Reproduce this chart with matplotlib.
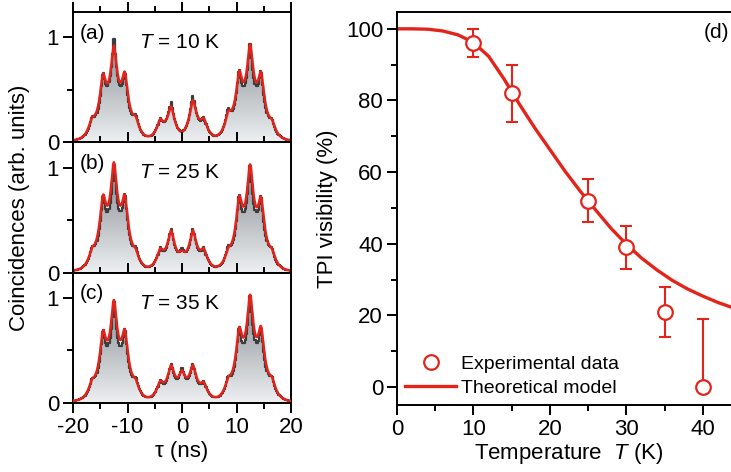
import numpy as np
import matplotlib.pyplot as plt
from matplotlib.colors import LinearSegmentedColormap

plt.rcParams['font.family'] = ['Liberation Sans', 'DejaVu Sans']
plt.rcParams['mathtext.fontset'] = 'custom'
plt.rcParams['mathtext.rm'] = 'Liberation Sans'
plt.rcParams['mathtext.it'] = 'Liberation Sans:italic'
plt.rcParams['axes.unicode_minus'] = False

RED = '#e3241b'

# Peak positions (ns) and heights (a)-(c)
peak_pos = [-16.5, -14.5, -12.5, -10.5, -8.5, -4, -2, 0, 2, 4,
            8.5, 10.5, 12.5, 14.5, 16.5]
fit_a = [0.24, 0.65, 0.92, 0.67, 0.25, 0.22, 0.34, 0.10, 0.40, 0.23,
         0.30, 0.68, 0.93, 0.67, 0.22]
dat_a = [0.25, 0.68, 1.03, 0.69, 0.27, 0.23, 0.38, 0.11, 0.44, 0.24,
         0.33, 0.71, 0.98, 0.70, 0.23]
fit_b = [0.24, 0.74, 1.05, 0.74, 0.23, 0.23, 0.40, 0.21, 0.40, 0.23,
         0.24, 0.73, 1.03, 0.72, 0.23]
dat_b = [0.25, 0.76, 1.07, 0.77, 0.25, 0.24, 0.42, 0.23, 0.42, 0.24,
         0.26, 0.76, 1.06, 0.75, 0.24]
fit_c = [0.23, 0.69, 0.98, 0.70, 0.23, 0.21, 0.36, 0.31, 0.36, 0.20,
         0.25, 0.72, 1.03, 0.73, 0.25]
dat_c = [0.24, 0.71, 1.00, 0.72, 0.25, 0.22, 0.37, 0.33, 0.37, 0.21,
         0.26, 0.74, 1.06, 0.74, 0.26]
panel_tags = ['(a)', '(b)', '(c)']
panel_temps = ['10', '25', '35']

# Panel (d): TPI visibility
T_exp = [10, 15, 25, 30, 35, 40]
V_exp = [96, 82, 52, 39, 21, 0]
err_lo = [4, 8, 6, 6, 7, 0]
err_hi = [4, 8, 6, 6, 7, 19]
T_model = [0, 2, 4, 6, 8, 10, 12, 14, 16, 18, 20, 22, 24, 26, 28, 30,
           32, 34, 36, 38, 40, 42, 44, 46]
V_model = [100, 100, 99.9, 99.4, 98.3, 96.2, 92.3, 86.0, 79.0, 72.4, 66.3,
           60.2, 54.6, 49.4, 44.3, 39.9, 36.0, 32.7, 29.8, 27.4, 25.4,
           23.6, 22.1, 20.7]


def peak_shape(dt, eps, decay=0.9):
    return np.exp(-(np.sqrt(dt ** 2 + eps ** 2) - eps) / decay)


def histogram(t, heights, eps, base=0.015):
    # amplitudes so that the summed curve reaches the read peak heights
    p = np.array(peak_pos)
    m = peak_shape(p[:, None] - p[None, :], eps)
    amp = np.linalg.solve(m, np.array(heights) - base)
    return base + (amp[None, :] * peak_shape(t[:, None] - p[None, :], eps)).sum(axis=1)


W, H = 731, 472
fig = plt.figure(figsize=(W / 100, H / 100), dpi=100)

cmap = LinearSegmentedColormap.from_list('g', ['#eef0f2', '#7b8187'])
t_fine = np.linspace(-20, 20, 2001)
t_bin = np.arange(-20, 20.001, 0.2)

tops = [12, 142.33, 272.67]
panel_h = 130.33
for i, (fit, dat) in enumerate([(fit_a, dat_a), (fit_b, dat_b), (fit_c, dat_c)]):
    top = tops[i]
    ax = fig.add_axes([73 / W, 1 - (top + panel_h) / H, 218 / W, panel_h / H])
    yd = histogram(t_bin, dat, 0.08)
    yf = histogram(t_fine, fit, 0.25)
    poly = ax.fill_between(t_bin, 0, yd, step='mid', facecolor='none',
                           edgecolor='none')
    grad = np.linspace(0, 1, 256).reshape(-1, 1)
    im = ax.imshow(grad, extent=[-20, 20, 0, 1.1], origin='lower',
                   aspect='auto', cmap=cmap, zorder=1)
    im.set_clip_path(poly.get_paths()[0], transform=ax.transData)
    ax.step(t_bin, yd, where='mid', color='#3c3c3c', lw=1.6, zorder=2)
    ax.plot(t_fine, yf, color=RED, lw=1.8, zorder=3)
    ax.set_xlim(-20, 20)
    ax.set_ylim(0, 1.24)
    ax.set_yticks([0, 1])
    ax.set_yticklabels(['0', '1'])
    ax.set_yticks([0.5], minor=True)
    ax.set_xticks([-20, -10, 0, 10, 20])
    ax.set_xticks([-15, -5, 5, 15], minor=True)
    ax.tick_params(axis='both', which='both', direction='out', width=1.4,
                   labelsize=16, pad=3)
    ax.tick_params(axis='both', which='major', length=7)
    ax.tick_params(axis='both', which='minor', length=4)
    ax.tick_params(axis='x', top=True, which='both')
    if i < 2:
        ax.tick_params(axis='x', labelbottom=False)
    for s in ax.spines.values():
        s.set_linewidth(1.4)
    ax.text(-18.7, 1.04, panel_tags[i], fontsize=15, ha='left', va='center')
    ax.text(-0.5, 0.95, r'$T$ = ' + panel_temps[i] + ' K', fontsize=15,
            ha='center', va='center')
    if i == 2:
        ax.set_xlabel('\u03c4 (ns)', fontsize=16, labelpad=2)
    if i == 1:
        ax.set_ylabel('Coincidences (arb. units)', fontsize=16, labelpad=12)

# Panel (d)
axd = fig.add_axes([397 / W, 1 - 405 / H, 344 / W, 393 / H])
axd.plot(T_model, V_model, color=RED, lw=2.4, label='Theoretical model',
         zorder=2)
axd.errorbar(T_exp, V_exp, yerr=[err_lo, err_hi], fmt='none', ecolor=RED,
             elinewidth=1.5, capsize=4.5, capthick=1.5, zorder=3)
axd.plot(T_exp, V_exp, 'o', ms=10.5, mfc='white', mec=RED, mew=1.6,
         label='Experimental data', zorder=4, linestyle='none')
axd.set_xlim(0, 45)
axd.set_ylim(-5, 104.7)
axd.set_xticks([0, 10, 20, 30, 40])
axd.set_xticks([5, 15, 25, 35, 45], minor=True)
axd.set_yticks([0, 20, 40, 60, 80, 100])
axd.set_yticks([10, 30, 50, 70, 90], minor=True)
axd.tick_params(axis='both', which='both', direction='out', width=1.4,
                labelsize=16, pad=3)
axd.tick_params(axis='both', which='major', length=7)
axd.tick_params(axis='both', which='minor', length=4)
for s in axd.spines.values():
    s.set_linewidth(1.4)
axd.set_xlabel(r'Temperature  $T$ (K)', fontsize=16, labelpad=1)
axd.set_ylabel('TPI visibility (%)', fontsize=16, labelpad=6)
axd.text(40.1, 98.9, '(d)', fontsize=15, ha='left', va='center')
h, l = axd.get_legend_handles_labels()
axd.legend([h[1], h[0]], [l[1], l[0]], loc='lower left',
           bbox_to_anchor=(-0.01, -0.01), frameon=False, fontsize=14,
           handlelength=2.6, handletextpad=0.25, labelspacing=0.35,
           borderaxespad=0.2)

fig.savefig('out.png', dpi=100)
